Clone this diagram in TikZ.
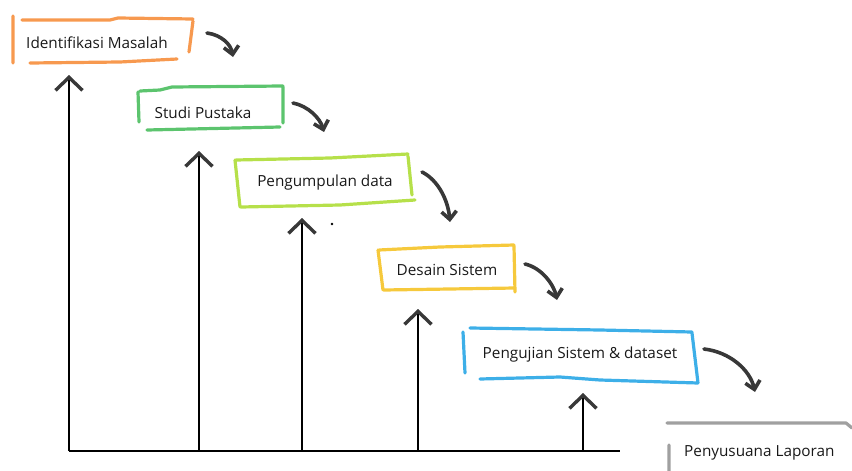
\documentclass[tikz,border=0pt]{standalone}
\usepackage{fontspec}
\setmainfont{Open Sans}
\usetikzlibrary{arrows.meta}
\definecolor{penorange}{HTML}{F7994F}
\definecolor{pengreen}{HTML}{5CC46E}
\definecolor{penlime}{HTML}{B6E04A}
\definecolor{penyellow}{HTML}{F6C93C}
\definecolor{penblue}{HTML}{3DAFE8}
\definecolor{pengray}{HTML}{A0A0A0}
\definecolor{darkpen}{HTML}{383838}
\tikzset{stagetext/.style={inner sep=0pt, font=\fontsize{15.3}{18}\selectfont, text=black!90},
  boxstroke/.style={line width=3.2pt, line cap=round, line join=round},
  bendarrow/.style={draw=darkpen, line width=3.6pt, line cap=round, -{Straight Barb[length=8pt,width=15pt]}},
  riser/.style={line width=2pt, -{Straight Barb[length=13pt,width=27pt,line width=3.4pt,color=darkpen]}}}

\begin{document}
\begin{tikzpicture}[x=1pt, y=-1pt]
      \useasboundingbox (0,0) rectangle (852,471);
      % stage texts
      \node [stagetext] (identifikasi) at (97,43) {Identifikasi Masalah};
      \node [stagetext] (studi) at (203,113) {Studi Pustaka};
      \node [stagetext] (pengumpulan) at (325,183) {Pengumpulan data};
      \node [stagetext] (desain) at (447,270) {Desain Sistem};
      \node [stagetext] (pengujian) at (580,355) {Pengujian Sistem \& dataset};
      \node [stagetext, anchor=west] (penyusunan) at (684,453) {Penyusuana Laporan};
      % hand drawn boxes
      \draw [boxstroke, penorange] (13,16) -- (13,63) (22,20) -- (110,20) -- (118,18) -- (193,19)
        (193,21) -- (189,52) (30,63) -- (120,62) -- (177,59);
      \draw [boxstroke, pengreen] (138,92) -- (139,122) (140,91) -- (160,90) -- (172,87) -- (283,86)
        (283,87) -- (283,123) (147,130) -- (280,127);
      \draw [boxstroke, penlime] (235,160) -- (240,207) (236,160) -- (330,158) -- (408,154)
        (408,156) -- (412,195) (241,207) -- (340,205) -- (415,200);
      \draw [boxstroke, penyellow] (378,250) -- (383,290) (379,250) -- (440,247) -- (514,245)
        (514,246) -- (515,292) (384,290) -- (515,288);
      \draw [boxstroke, penblue] (463,332) -- (465,373) (470,328) -- (600,330) -- (692,332)
        (692,333) -- (698,383) (480,379) -- (560,377) -- (600,380) -- (698,383);
      \draw [boxstroke, pengray] (667,423) -- (846,423) -- (852,428) (669,445) -- (669,471);
      % curved arrows between stages
      \coordinate (s1) at (207,33);  \coordinate (e1) at (233,57);
      \coordinate (s2) at (293,103); \coordinate (e2) at (324,132);
      \coordinate (s3) at (422,172); \coordinate (e3) at (450,222);
      \coordinate (s4) at (525,264); \coordinate (e4) at (557,300);
      \coordinate (s5) at (704,349); \coordinate (e5) at (755,392);
      \draw [bendarrow] (s1) .. controls (222,35) and (231,45) .. (e1);
      \draw [bendarrow] (s2) .. controls (308,106) and (320,118) .. (e2);
      \draw [bendarrow] (s3) .. controls (438,180) and (448,200) .. (e3);
      \draw [bendarrow] (s4) .. controls (542,268) and (554,285) .. (e4);
      \draw [bendarrow] (s5) .. controls (730,352) and (750,370) .. (e5);
      % base line and rising arrows
      \coordinate (basewest) at (69,451);
      \coordinate (baseeast) at (620,451);
      \draw [line width=2.4pt] (basewest) -- (baseeast);
      \foreach \i/\x/\y in {1/69/75, 2/199/151, 3/302/218, 4/418/309, 5/583/393} {
        \coordinate (b\i) at (\x,451);
        \coordinate (t\i) at (\x,\y);
        \draw [riser] (b\i) -- (t\i);
      }
      \fill (332,224) circle (1.3);
    \end{tikzpicture}
\end{document}
